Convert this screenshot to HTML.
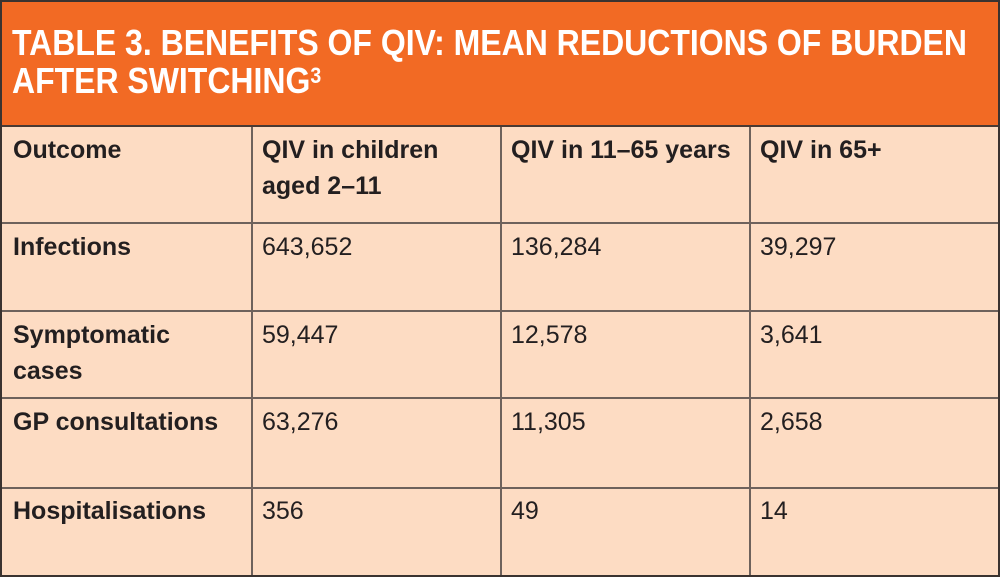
<!DOCTYPE html>
<html><head><meta charset="utf-8"><style>
body{margin:0;width:1000px;height:577px;overflow:hidden;background:#fff;font-family:"Liberation Sans Narrow","Liberation Sans",sans-serif}
#wrap{position:absolute;left:0;top:0;width:996px;height:573px;border:2px solid #3a3330;background:#fddcc3}
#title{position:absolute;left:0;top:0;width:996px;height:123px;background:#f26a24;border-bottom:2px solid #4a3a33}
#title div{position:absolute;left:10px;top:22px;color:#fff;font-weight:bold;font-size:36px;line-height:38px;white-space:nowrap;transform:scaleX(0.888);transform-origin:0 0}
.vl{position:absolute;top:125px;width:2px;height:448px;background:#6e625c}
.hl{position:absolute;left:0;width:996px;height:2px;background:#6e625c}
.c{position:absolute;font-size:25px;line-height:36px;color:#231f20}
.b{font-weight:bold}
</style></head><body>
<div id="wrap">
<div id="title"><div>TABLE 3. BENEFITS OF QIV: MEAN REDUCTIONS OF BURDEN<br>AFTER SWITCHING<sup style="font-size:22px;vertical-align:10px;line-height:0">3</sup></div></div>
<div class="vl" style="left:249px"></div>
<div class="vl" style="left:498px"></div>
<div class="vl" style="left:747px"></div>
<div class="hl" style="top:220px"></div>
<div class="hl" style="top:308px"></div>
<div class="hl" style="top:395px"></div>
<div class="hl" style="top:485px"></div>

<div class="c b" style="left:11px;top:130px">Outcome</div>
<div class="c b" style="left:260px;top:130px">QIV in children<br>aged 2–11</div>
<div class="c b" style="left:509px;top:130px">QIV in 11–65 years</div>
<div class="c b" style="left:758px;top:130px">QIV in 65+</div>

<div class="c b" style="left:11px;top:227px">Infections</div>
<div class="c" style="left:260px;top:227px">643,652</div>
<div class="c" style="left:509px;top:227px">136,284</div>
<div class="c" style="left:758px;top:227px">39,297</div>

<div class="c b" style="left:11px;top:315px">Symptomatic<br>cases</div>
<div class="c" style="left:260px;top:315px">59,447</div>
<div class="c" style="left:509px;top:315px">12,578</div>
<div class="c" style="left:758px;top:315px">3,641</div>

<div class="c b" style="left:11px;top:402px">GP consultations</div>
<div class="c" style="left:260px;top:402px">63,276</div>
<div class="c" style="left:509px;top:402px">11,305</div>
<div class="c" style="left:758px;top:402px">2,658</div>

<div class="c b" style="left:11px;top:491px">Hospitalisations</div>
<div class="c" style="left:260px;top:491px">356</div>
<div class="c" style="left:509px;top:491px">49</div>
<div class="c" style="left:758px;top:491px">14</div>
</div>
</body></html>
